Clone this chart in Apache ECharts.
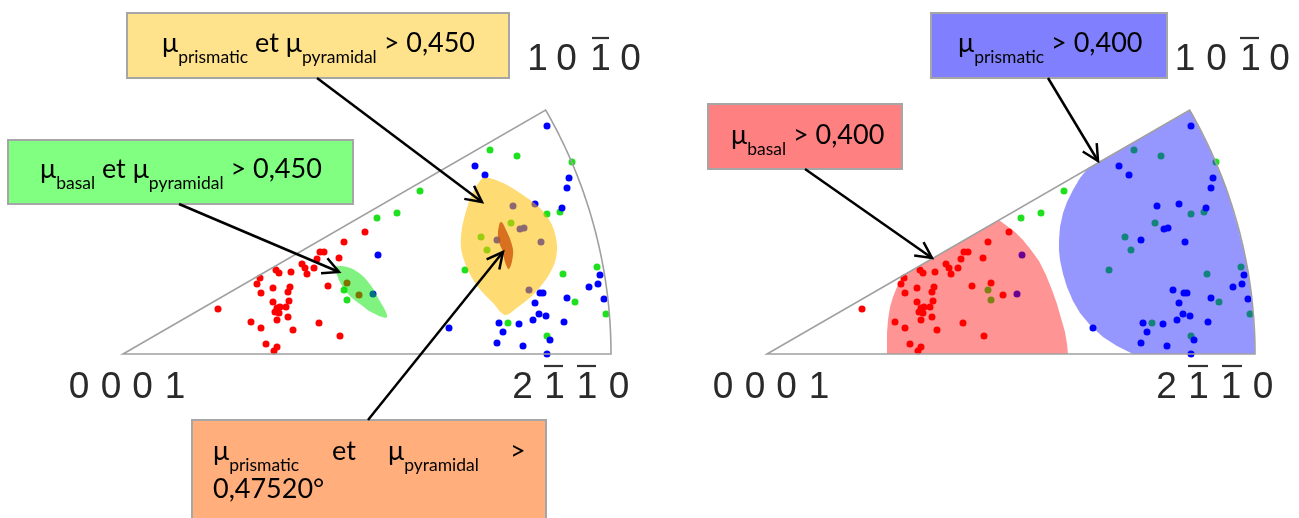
<!DOCTYPE html>
<html><head><meta charset="utf-8">
<script src="https://cdn.jsdelivr.net/npm/echarts@6/dist/echarts.min.js"></script>
<style>html,body{margin:0;padding:0;background:#fff}#c{width:1299px;height:518px}</style>
</head><body><div id="c"></div>
<script>
// Stereographic triangle, radius R (units: reading scale of the picture)
const R = 488;
// Grain orientations (same set in both triangles)
const redPts = [[242,122],[221,112],[197,102],[201,102],[216,96],[194,95],[179,90],[182,86],[184,80],[191,86],[168,82],[153,84],[156,81],[137,76],[134,70],[150,66],[167,67],[165,62],[138,61],[205,68],[224,71],[236,59],[166,53],[150,52],[154,46],[157,47],[163,47],[152,42],[156,41],[154,34],[165,37],[95,45],[128,32],[138,26],[170,24],[196,31],[217,18],[143,10],[154,7],[151,3]];
const greenPts = [[297,163],[274,141],[254,136],[221,64],[224,54],[367,204],[394,198],[449,192],[424,140],[437,142],[388,131],[358,117],[364,104],[342,84],[440,80],[474,87],[452,52],[483,40],[385,31],[424,18]];
const bluePts = [[424,228],[352,188],[362,179],[446,176],[444,166],[390,148],[412,150],[439,146],[397,125],[401,126],[374,114],[418,112],[255,99],[250,60],[406,64],[417,61],[420,61],[477,79],[475,70],[466,67],[481,55],[444,56],[412,51],[416,40],[423,38],[410,34],[441,32],[396,30],[376,31],[380,22],[326,26],[374,11],[400,8],[427,14],[424,0]];
// Regions (left triangle)
const yellowRegion = [[360,176],[370,175],[384,169],[400,159],[417,146],[429,129],[434,109],[432,92],[424,76],[410,59],[395,47],[382,39],[370,51],[355,67],[344,86],[338,106],[339,126],[344,146],[350,162],[357,173]];
const orangeRegion = [[378,132],[384,122],[389,109],[390,99],[386,85],[382,92],[380,102],[376,112],[375,122]];
const greenLens = [[212,87],[224,87],[236,81],[246,71],[254,58],[264,37],[250,41],[237,50],[225,60],[217,72],[213,82]];
// Regions (right triangle)
const redRegion = [[120,0],[120,21],[121,34],[123,47],[126,57],[130,67],[135,78],[232,134],[240,128],[248,122],[256,114],[264,104],[272,93],[279,79],[285,64],[290,50],[294,36],[298,22],[300,10],[301,0]];
const blueRegion = [[321,186],[313,176],[306,164],[300,152],[296,141],[293,127],[292,114],[292,104],[293,94],[296,80],[300,67],[306,53],[313,41],[323,29],[336,17],[350,8],[366,0],[488,0],[486,43],[481,85],[471,126],[459,167],[442,206],[423,244]];
// Pole labels
const labelTop = ['1','0','1','0'];
const labelBottomLeft = ['0','0','0','1'];
const labelBottomRight = ['2','1','1','0'];

const chart = echarts.init(document.getElementById('c'), null, {renderer:'canvas'});

function polySeries(idx, pts, fill, smooth, z){
  return {type:'custom', xAxisIndex:idx, yAxisIndex:idx, z:z, silent:true, data:[[0,0]],
    renderItem:(p, api)=>({type:'polygon', shape:{points:pts.map(v=>api.coord(v)), smooth:smooth}, style:{fill:fill}})};
}
function frameSeries(idx){
  return {type:'custom', xAxisIndex:idx, yAxisIndex:idx, z:10, silent:true, data:[[0,0]],
    renderItem:(p, api)=>{
      const pts=[api.coord([0,0])];
      for(let a=0;a<=30.001;a+=0.5){pts.push(api.coord([R*Math.cos(a*Math.PI/180), R*Math.sin(a*Math.PI/180)]));}
      return {type:'polygon', shape:{points:pts}, style:{fill:'none', stroke:'#a0a0a0', lineWidth:1.6}};
    }};
}
function scatterSeries(idx, pts, color){
  return {type:'scatter', xAxisIndex:idx, yAxisIndex:idx, z:2, silent:true, symbolSize:7, data:pts, itemStyle:{color:color, opacity:1}};
}

// text helpers
const cv = document.createElement('canvas').getContext('2d');
const FONT = 'Lato';
function tw(s, size){cv.font = size+'px '+FONT; return cv.measureText(s).width;}
const MS = 27, SS = 17.5;
function richLine(x, yMid, pieces){
  const out=[];
  for(const [s,k] of pieces){
    const size = k==='s'?SS:MS;
    out.push({type:'text', z:120, style:{text:s, x:x, y:k==='s'?yMid+14:yMid, font:size+'px '+FONT, fill:'#000', textVerticalAlign:'middle', verticalAlign:'middle'}});
    x += tw(s,size);
  }
  return out;
}
function box(x1,y1,x2,y2,fill){
  return {type:'rect', z:110, shape:{x:x1,y:y1,width:x2-x1,height:y2-y1}, style:{fill:fill, stroke:'#a6a6a6', lineWidth:2}};
}
function arrow(x1,y1,x2,y2){
  const a=Math.atan2(y2-y1,x2-x1), L=18, w=0.47;
  const p1=[x2-L*Math.cos(a-w), y2-L*Math.sin(a-w)], p2=[x2-L*Math.cos(a+w), y2-L*Math.sin(a+w)];
  return [
    {type:'line', z:130, shape:{x1:x1,y1:y1,x2:x2,y2:y2}, style:{stroke:'#000', lineWidth:2.5}},
    {type:'polyline', z:130, shape:{points:[p1,[x2,y2],p2]}, style:{stroke:'#000', lineWidth:2.5, fill:null}}
  ];
}
function digits(chars, centers, yMid){
  return chars.map((c,i)=>({type:'text', z:120, style:{text:c, x:centers[i], y:yMid, font:'37px "Liberation Sans"', fill:'#2a2a2a', align:'center', textAlign:'center', verticalAlign:'middle', textVerticalAlign:'middle'}}));
}
function bar(x1,x2,y){return {type:'line', z:120, shape:{x1:x1,y1:y,x2:x2,y2:y}, style:{stroke:'#333', lineWidth:2.2}};}

let g = [];
// boxes
g.push(box(127,13,509,78,'#FFE38C'));
g.push(box(8,140,353,204,'#80FF80'));
g.push(box(192,420,546,530,'#FFAE7C'));
g.push(box(931,13,1167,78,'#8080FF'));
g.push(box(708,104,902,169,'#FF8080'));
// texts
g = g.concat(richLine(162,43.5,[['μ','m'],['prismatic','s'],[' et μ','m'],['pyramidal','s'],[' > 0,450','m']]));
g = g.concat(richLine(40,169.5,[['μ','m'],['basal','s'],[' et μ','m'],['pyramidal','s'],[' > 0,450','m']]));
g = g.concat(richLine(958,43.5,[['μ','m'],['prismatic','s'],[' > 0,400','m']]));
g = g.concat(richLine(731,135,[['μ','m'],['basal','s'],[' > 0,400','m']]));
g = g.concat(richLine(213,451.5,[['μ','m'],['prismatic','s']]));
g = g.concat(richLine(332,451.5,[['et','m']]));
g = g.concat(richLine(388,451.5,[['μ','m'],['pyramidal','s']]));
g = g.concat(richLine(510,451.5,[['>','m']]));
g = g.concat(richLine(213,489.5,[['0,47520°','m']]));
// arrows
g = g.concat(arrow(317,78,482,202));
g = g.concat(arrow(179,204,339,272));
g = g.concat(arrow(368,420,503,252));
g = g.concat(arrow(1048,78,1098,161));
g = g.concat(arrow(805,169,932,258));
// pole labels
g = g.concat(digits(labelTop,[537.5,566.5,600.5,630.5],59.5));
g = g.concat(digits(labelTop,[1185,1216.5,1250.5,1279.5],59.5));
g = g.concat(digits(labelBottomLeft,[79,111,142.5,175],387.5));
g = g.concat(digits(labelBottomLeft,[723,755,786.5,819],387.5));
g = g.concat(digits(labelBottomRight,[522.5,554.5,587,619],387.5));
g = g.concat(digits(labelBottomRight,[1166.5,1198.5,1231,1263],387.5));
g.push(bar(592,609,38)); g.push(bar(1240,1259,38));
g.push(bar(544,563,366)); g.push(bar(577,596,366));
g.push(bar(1188,1208,366)); g.push(bar(1222,1242,366));

const option = {
  animation:false,
  backgroundColor:'#fff',
  grid:[{left:123, top:110, width:R, height:R/2},{left:767, top:110, width:R, height:R/2}],
  xAxis:[{type:'value',min:0,max:R,show:false,gridIndex:0},{type:'value',min:0,max:R,show:false,gridIndex:1}],
  yAxis:[{type:'value',min:0,max:R/2,show:false,gridIndex:0},{type:'value',min:0,max:R/2,show:false,gridIndex:1}],
  series:[
    scatterSeries(0, redPts, '#ff0000'), scatterSeries(0, greenPts, '#1fe01f'), scatterSeries(0, bluePts, '#0000ff'),
    scatterSeries(1, redPts, '#ff0000'), scatterSeries(1, greenPts, '#1fe01f'), scatterSeries(1, bluePts, '#0000ff'),
    polySeries(0, greenLens, 'rgba(0,230,0,0.5)', 0.4, 5),
    polySeries(0, yellowRegion, 'rgba(255,190,0,0.55)', 0.3, 5),
    polySeries(0, orangeRegion, 'rgba(205,85,10,0.8)', 0.4, 6),
    polySeries(1, redRegion, 'rgba(255,0,0,0.42)', 0, 5),
    polySeries(1, blueRegion, 'rgba(0,0,255,0.41)', 0, 5),
    frameSeries(0), frameSeries(1)
  ],
  graphic:{elements:g}
};
chart.setOption(option);
</script></body></html>
